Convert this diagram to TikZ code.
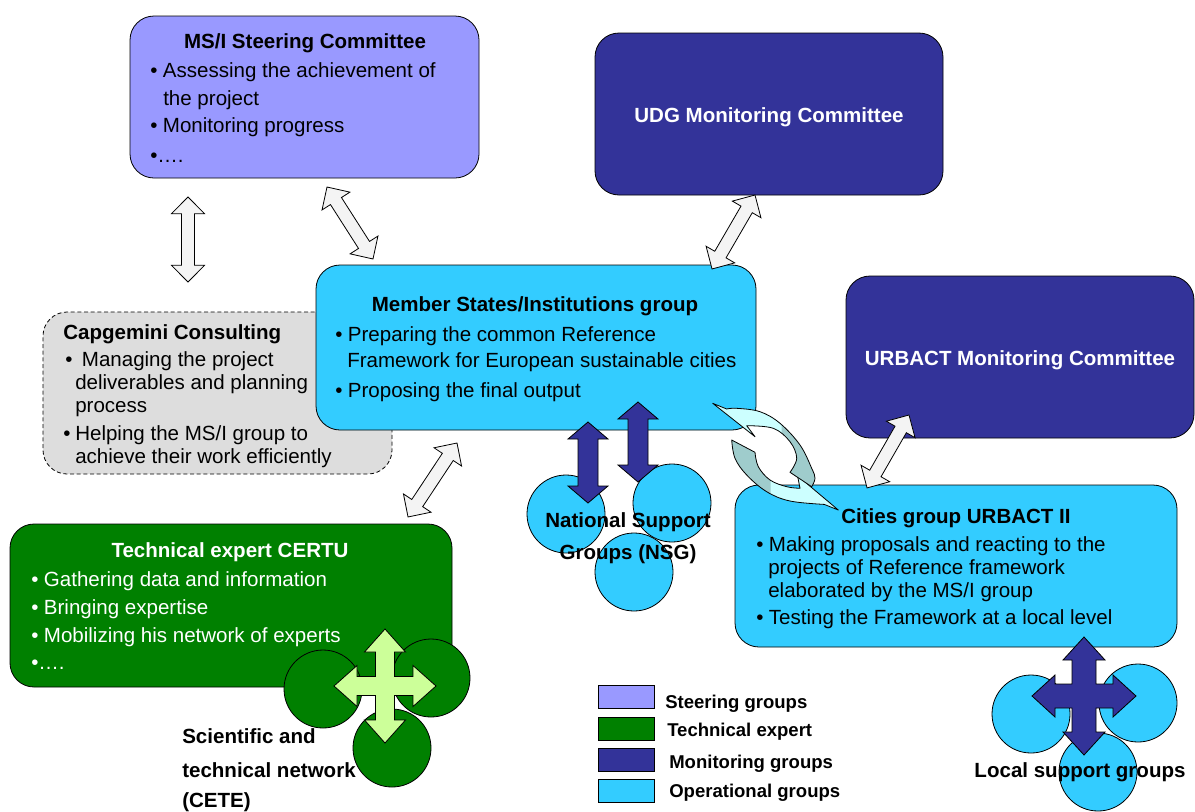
\documentclass[tikz,border=0pt]{standalone}
\usepackage{fontspec}
\setmainfont{Liberation Sans}
\usepackage{xcolor}
\usepackage{tikz}
\usetikzlibrary{calc,fit}
\definecolor{SteerBlue}{HTML}{9999FF}
\definecolor{TechGreen}{HTML}{008000}
\definecolor{MonitorBlue}{HTML}{333399}
\definecolor{OperCyan}{HTML}{33CCFF}
\definecolor{ConsultGray}{HTML}{DDDDDD}
\definecolor{ArrowWhite}{HTML}{F4F4F4}
\definecolor{CrossGreen}{HTML}{CCFF99}
\definecolor{SwirlCyan}{HTML}{CCFFFF}
\definecolor{SwirlTeal}{HTML}{9FCCCC}

\tikzset{
  box/.style={draw, line width=0.6pt, rounded corners=18pt, inner sep=0pt},
  txt/.style={anchor=west, inner sep=0pt, text height=11pt, text depth=0pt, font=\fontsize{15.4}{18}\selectfont},
  ttl/.style={txt, anchor=center, font=\fontsize{15.4}{18}\selectfont\bfseries},
  leg/.style={txt, text height=10pt, font=\fontsize{13.9}{16}\selectfont\bfseries},
  blob/.style={circle, draw, line width=0.6pt, minimum size=58.5pt, inner sep=0pt},
}

\newcommand{\bul}[1][9.5pt]{\makebox[#1][l]{•}}

% block arrow with two heads between two named points
\newcommand{\dblarrow}[6]{%
  \path let \p1=($(#2)-(#1)$) in \pgfextra{%
    \pgfmathsetmacro{\arrang}{atan2(\y1,\x1)}\global\let\arrang\arrang
    \pgfmathsetmacro{\arrlen}{veclen(\x1,\y1)}\global\let\arrlen\arrlen};
  \begin{scope}[shift={(#1)}, rotate=\arrang]
    \draw[line width=0.6pt, fill=#3] (0pt,0pt) -- (#6,#5) -- (#6,#4) -- ({\arrlen pt-#6},#4)
      -- ({\arrlen pt-#6},#5) -- (\arrlen pt,0pt) -- ({\arrlen pt-#6},-#5)
      -- ({\arrlen pt-#6},-#4) -- (#6,-#4) -- (#6,-#5) -- cycle;
  \end{scope}}

% four-way block arrow round a named point
\newcommand{\crossarrow}[7]{%
  \draw[line width=0.6pt, fill=#2, shift={(#1)}] (-#5,-#5)
    \foreach \r/\a in {0/#3,-90/#4,-180/#3,-270/#4}{
      -- ([rotate=\r]-#5,{-\a+#7}) -- ([rotate=\r]-#6,{-\a+#7}) -- ([rotate=\r]0,-\a)
      -- ([rotate=\r]#6,{-\a+#7}) -- ([rotate=\r]#5,{-\a+#7}) -- ([rotate=\r]#5,-#5)}
    -- cycle;}

% the two halves of the cycle arrows
\newcommand{\swirltop}{(-62.8,-53.4)
  -- plot[smooth, tension=0.6] coordinates {(-48.8,-47.7) (-38.8,-48.4) (-15.5,-45) (4.5,-33.4)
     (24.5,-11.7) (36.2,11.6) (39.5,21.6) (36.2,30)}
  -- plot[smooth, tension=0.6] coordinates {(14.5,15.6) (21.2,1.6) (14.5,-15) (-2.2,-28.4) (-28.8,-31)}
  -- (-20.5,-20) -- cycle}
\newcommand{\swirlbottom}{(-43.8,-16.7)
  -- plot[smooth, tension=0.6] coordinates {(-20.5,-4.4) (-17.2,10) (-5.5,23.3) (11.2,30) (24.5,31.6)}
  -- (22,19) -- (62.8,53.3)
  -- plot[smooth, tension=0.6] coordinates {(48.8,47.7) (14.5,44.3) (-8.8,35) (-28.8,18.3) (-40.5,1.6)
     (-43.8,-16.7)} -- cycle}

\begin{document}
\begin{tikzpicture}[x=0.75pt, y=-0.75pt]
\useasboundingbox (0,0) rectangle (1195,811);

% boxes
\node[box, dash pattern=on 3pt off 2pt, fill=ConsultGray, fit={(43,312) (392,474)}] (capg) {};
\node[box, fill=OperCyan, fit={(316,265) (756,430)}] (msi) {};
\node[box, fill=SteerBlue, fit={(130,16) (479,178)}] (steer) {};
\node[box, fill=MonitorBlue, fit={(595,33) (943,195)}] (udg) {};
\node[box, fill=MonitorBlue, fit={(846,276) (1194,438)}] (urbact) {};
\node[box, fill=TechGreen, fit={(10,524) (452,687)}] (certu) {};
\node[box, fill=OperCyan, fit={(735,485) (1177,647)}] (cities) {};

% box texts
\node[ttl] (steer-t) at (305,41) {MS/I Steering Committee};
\foreach \x/\y/\txt [count=\i] in {150/70/{\bul Assessing the achievement of}, 163/98/{the project},
    150/125/{\bul Monitoring progress}, 150/155/{•….}} {
  \node[txt] (steer-\i) at (\x,\y) {\txt};
}
\node[ttl, text=white] (udg-t) at (769,115) {UDG Monitoring Committee};
\node[ttl, text=white] (urbact-t) at (1020,358) {URBACT Monitoring Committee};

\node[ttl] (msi-t) at (535,304) {Member States/Institutions group};
\foreach \x/\y/\txt [count=\i] in {335/334/{\bul Preparing the common Reference},
    347/360/{Framework for European sustainable cities}, 335/390/{\bul Proposing the final output}} {
  \node[txt] (msi-\i) at (\x,\y) {\txt};
}

\node[ttl, anchor=west] (capg-t) at (63,332) {Capgemini Consulting};
\foreach \x/\y/\txt [count=\i] in {65/359/{\bul[12.5pt]Managing the project}, 75/382/{deliverables and planning},
    75/405/{process}, 63/433/{\bul[9pt]Helping the MS/I group to}, 75/456/{achieve their work efficiently}} {
  \node[txt] (capg-\i) at (\x,\y) {\txt};
}

\node[ttl, text=white] (certu-t) at (230,550) {Technical expert CERTU};
\foreach \y/\txt [count=\i] in {579/{\bul Gathering data and information}, 607/{\bul Bringing expertise},
    635/{\bul Mobilizing his network of experts}, 662/{•….}} {
  \node[txt, text=white] (certu-\i) at (31,\y) {\txt};
}

\node[ttl] (cities-t) at (956,516) {Cities group URBACT II};
\foreach \x/\y/\txt [count=\i] in {756/544/{\bul Making proposals and reacting to the},
    768/567/{projects of Reference framework}, 768/590/{elaborated by the MS/I group},
    756/617/{\bul Testing the Framework at a local level}} {
  \node[txt] (cities-\i) at (\x,\y) {\txt};
}

% arrow ends
\coordinate (steer-capg-1) at (188,197);
\coordinate (steer-capg-2) at (188,282);
\coordinate (steer-msi-1) at (327,187);
\coordinate (steer-msi-2) at (373,259);
\coordinate (udg-msi-1) at (755,195);
\coordinate (udg-msi-2) at (712,269);
\coordinate (urbact-cities-1) at (909,415);
\coordinate (urbact-cities-2) at (867,488);
\coordinate (msi-certu-1) at (457,443);
\coordinate (msi-certu-2) at (408,517);
\coordinate (msi-nsg-1) at (588,422);
\coordinate (msi-nsg-2) at (588,503);
\coordinate (msi-nsg-3) at (638,402);
\coordinate (msi-nsg-4) at (638,482);
\coordinate (tech-net) at (385,686);
\coordinate (local-net) at (1084,696);
\coordinate (swirl) at (775.5,456.7);

% white links
\dblarrow{steer-capg-1}{steer-capg-2}{ArrowWhite}{4.9pt}{12.4pt}{12.5pt}
\dblarrow{steer-msi-1}{steer-msi-2}{ArrowWhite}{4.9pt}{12.4pt}{12.5pt}
\dblarrow{udg-msi-1}{udg-msi-2}{ArrowWhite}{4.9pt}{12.4pt}{12.5pt}
\dblarrow{urbact-cities-1}{urbact-cities-2}{ArrowWhite}{4.9pt}{12.4pt}{12.5pt}
\dblarrow{msi-certu-1}{msi-certu-2}{ArrowWhite}{4.9pt}{12.4pt}{12.5pt}

% national support groups
\foreach \x/\y [count=\i] in {566/514, 672/503, 634/572} {
  \node[blob, fill=OperCyan] (nsg-\i) at (\x,\y) {};
}
\dblarrow{msi-nsg-1}{msi-nsg-2}{MonitorBlue}{7.5pt}{15pt}{12.75pt}
\dblarrow{msi-nsg-3}{msi-nsg-4}{MonitorBlue}{7.5pt}{15pt}{12.75pt}
\node[ttl] (nsg-t1) at (628,520) {National Support};
\node[ttl] (nsg-t2) at (628,552) {Groups (NSG)};

% scientific and technical network
\foreach \x/\y [count=\i] in {323/689, 431/678, 392/748} {
  \node[blob, fill=TechGreen] (cete-\i) at (\x,\y) {};
}
\crossarrow{tech-net}{CrossGreen}{57}{51}{9.5}{20.5}{23}
\foreach \y/\txt [count=\i] in {736/{Scientific and}, 770/{technical network}, 800/{(CETE)}} {
  \node[ttl, anchor=west] (cete-t\i) at (182,\y) {\txt};
}

% local support groups
\foreach \x/\y [count=\i] in {1031/714, 1138/703, 1098/772} {
  \node[blob, fill=OperCyan] (local-\i) at (\x,\y) {};
}
\crossarrow{local-net}{MonitorBlue}{59}{52}{12}{21}{23}
\node[ttl] (local-t) at (1080,770) {Local support groups};

% cycle between MS/I group and cities
\begin{scope}[shift={(swirl)}]
  \foreach \part/\cut in {\swirlbottom/{(-5,-80) rectangle (100,80)}, \swirltop/{(-100,-80) rectangle (6,80)}} {
    \fill[SwirlTeal] \part;
    \begin{scope}
      \clip \cut;
      \fill[SwirlCyan] \part;
    \end{scope}
    \draw[line width=0.6pt, line join=round] \part;
  }
\end{scope}

% legend
\foreach \col/\yb/\xl/\yl/\lab [count=\i] in {SteerBlue/685/665/701.5/Steering groups,
    TechGreen/717/667/730/Technical expert, MonitorBlue/748/669/762/Monitoring groups,
    OperCyan/779/669/790.5/Operational groups} {
  \draw[line width=0.6pt, fill=\col] (598,\yb) rectangle ++(56,23);
  \node[leg] (leg-\i) at (\xl,\yl) {\lab};
}
\end{tikzpicture}
\end{document}
